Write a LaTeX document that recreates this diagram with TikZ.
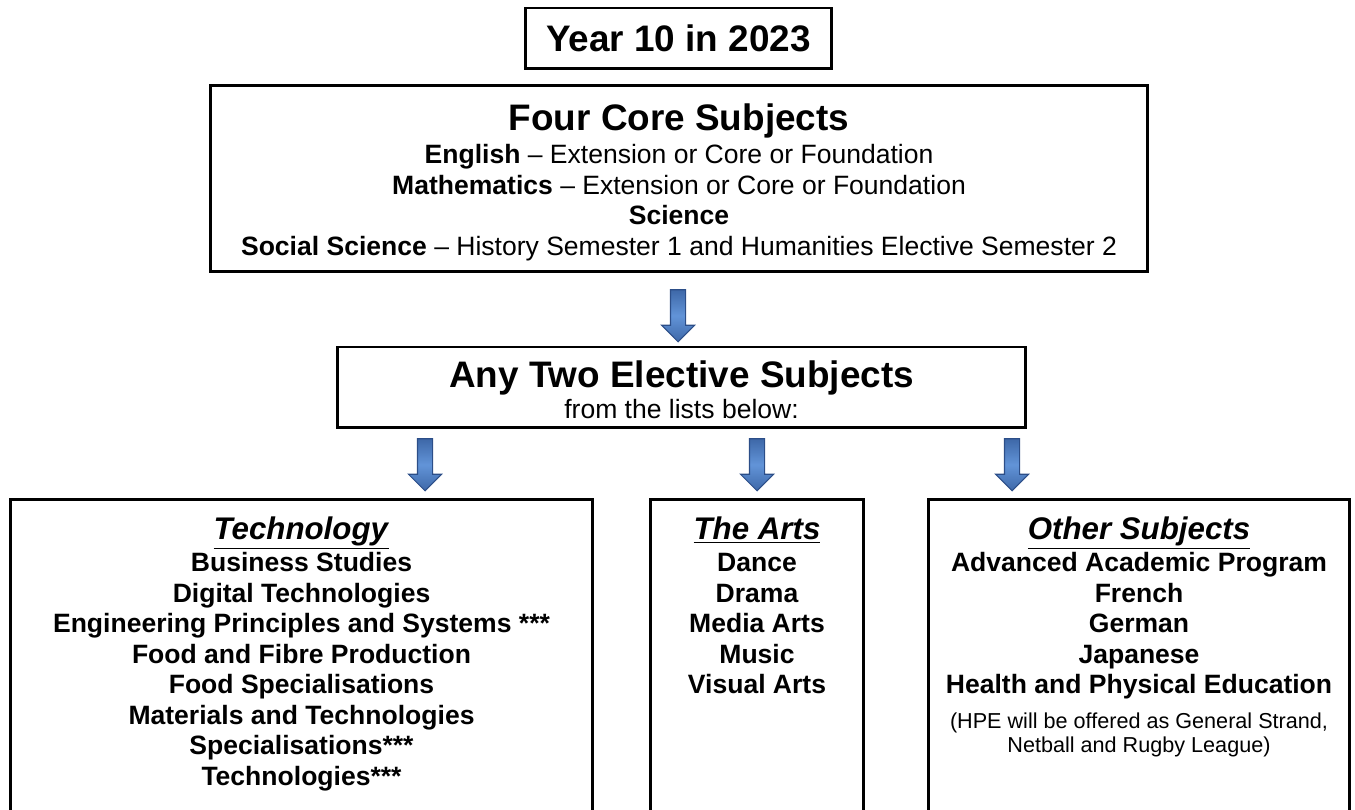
\documentclass[tikz,border=0pt]{standalone}
\usepackage{fontspec}
\setmainfont{Liberation Sans}
\usetikzlibrary{shapes.arrows}
\definecolor{arrowfill}{RGB}{62,104,168}
\definecolor{arrowlight}{RGB}{98,148,216}
\definecolor{arrowline}{RGB}{44,78,136}
\newcommand{\bigfont}{\fontsize{21}{25}\selectfont}
\newcommand{\bodyfont}{\fontsize{15.1}{17.4}\selectfont}
\newcommand{\headfont}{\fontsize{17.8}{20}\selectfont}
\newcommand{\notefont}{\fontsize{12.3}{13}\selectfont}
\newcommand{\heading}[1]{{\headfont\underline{\textit{#1}}}}
\tikzset{
  box/.style = {draw=black, line width=1.7pt, align=center, inner sep=0pt},
  titlebox/.style = {box, font=\bigfont\bfseries},
  textbox/.style = {box, font=\bodyfont},
  listbox/.style = {box, anchor=north, inner ysep=0.35cm, text depth=12cm,
    font=\bodyfont\bfseries},% open at the bottom edge
  downarrow/.style = {single arrow, rotate=-90, draw=arrowline, line width=0.6pt,
    top color=arrowfill, bottom color=arrowfill, middle color=arrowlight,
    minimum height=1.04cm, inner sep=0.14cm, single arrow head extend=0.18cm}
}

\begin{document}
\begin{tikzpicture}[x=0.02cm,y=-0.02cm]
\path[use as bounding box, clip] (0,0) rectangle (1355,810);

\node [titlebox, minimum width=6.14cm, minimum height=1.22cm] (year) at (678.5,38.5)
  {Year 10 in 2023};

\node [textbox, minimum width=18.76cm, minimum height=3.74cm] (core) at (679,178.5)
  {\rule{0pt}{19.8pt}{\bigfont\bfseries Four Core Subjects}\\[1.3pt]
   \textbf{English} -- Extension or Core or Foundation\\
   \textbf{Mathematics} -- Extension or Core or Foundation\\
   \textbf{Science}\\
   \textbf{Social Science} -- History Semester 1 and Humanities Elective Semester 2};

\node [textbox, minimum width=13.78cm, minimum height=1.62cm] (elect) at (681.5,387.5)
  {\rule{0pt}{18pt}{\bigfont\bfseries Any Two Elective Subjects}\\[0.6pt]
   from the lists below:};

% the three lists
\node [listbox, minimum width=11.66cm] (tech) at (301.5,498)
  {\heading{Technology}\\[0.7pt]
   Business Studies\\
   Digital Technologies\\
   Engineering Principles and Systems ***\\
   Food and Fibre Production\\
   Food Specialisations\\
   Materials and Technologies\\
   Specialisations***\\
   Technologies***};
\node [listbox, minimum width=4.28cm] (arts) at (757,498)
  {\heading{The Arts}\\[0.7pt]
   Dance\\
   Drama\\
   Media Arts\\
   Music\\
   Visual Arts};
\node [listbox, minimum width=8.44cm] (other) at (1139,498)
  {\heading{Other Subjects}\\[0.7pt]
   Advanced Academic Program\\
   French\\
   German\\
   Japanese\\
   Health and Physical Education\\[2.2pt]
   {\notefont\mdseries (HPE will be offered as General Strand,}\\[-3.4pt]
   {\notefont\mdseries Netball and Rugby League)}};

% block arrows
\node [downarrow] (arrcore) at (678,312) {};
\node [downarrow] (arrtech) at (425,461) {};
\node [downarrow] (arrarts) at (757,461) {};
\node [downarrow] (arrother) at (1012,461) {};
\end{tikzpicture}
\end{document}
